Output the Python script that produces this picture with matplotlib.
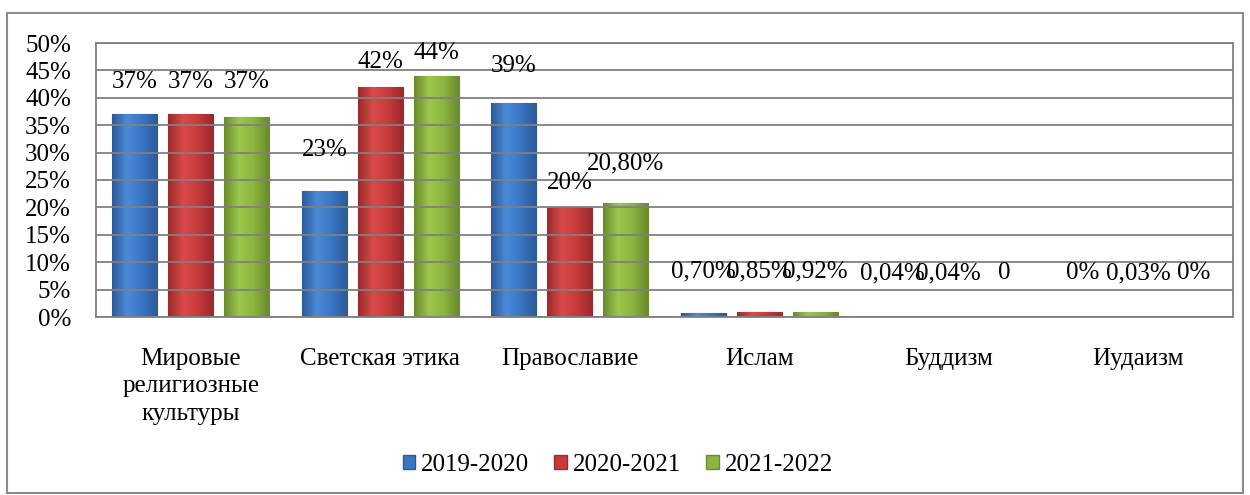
import matplotlib.pyplot as plt
import matplotlib.patches as mpatches
from matplotlib.colors import LinearSegmentedColormap
import numpy as np

categories = ['Мировые\nрелигиозные\nкультуры', 'Светская этика', 'Православие',
              'Ислам', 'Буддизм', 'Иудаизм']
series_names = ['2019-2020', '2020-2021', '2021-2022']
vals_2019 = [37.0, 23.0, 39.0, 0.70, 0.04, 0.0]
vals_2020 = [37.0, 42.0, 20.0, 0.85, 0.04, 0.03]
vals_2021 = [36.5, 44.0, 20.8, 0.92, 0.0, 0.0]
labels_2019 = ['37%', '23%', '39%', '0,70%', '0,04%', '0%']
labels_2020 = ['37%', '42%', '20%', '0,85%', '0,04%', '0,03%']
labels_2021 = ['37%', '44%', '20,80%', '0,92%', '0', '0%']
yticks = [0, 5, 10, 15, 20, 25, 30, 35, 40, 45, 50]

# where excel put the data labels (in axis units)
label_y_2019 = [42.9, 30.5, 45.8, 8.4, 8.0, 8.0]
label_y_2020 = [42.9, 46.5, 24.5, 8.4, 8.0, 8.0]
label_y_2021 = [42.9, 48.2, 28.1, 8.4, 8.0, 8.0]

colors = ['#3a76c4', '#c73a3b', '#8cb43e']
edges = ['#2c5b99', '#9a2a2b', '#6b8b2c']
lights = ['#4b8ad8', '#d94a4b', '#9dc64c']
fs = 18

plt.rcParams['font.family'] = ['Liberation Serif', 'DejaVu Serif']

fig = plt.figure(figsize=(12.5, 4.95), dpi=100)
ax = fig.add_axes([96 / 1250, 1 - 317 / 495, (1233 - 96) / 1250, (317 - 43) / 495])

# outer frame of the chart
fig.patches.append(mpatches.Rectangle((7 / 1250, 2 / 495), 1236 / 1250, 480 / 495,
                                      transform=fig.transFigure, fill=False,
                                      edgecolor='#8c8c8c', linewidth=1.5))

x = np.arange(len(categories))
step = 0.295
width = 0.237
all_vals = [vals_2019, vals_2020, vals_2021]
all_labels = [labels_2019, labels_2020, labels_2021]
all_label_y = [label_y_2019, label_y_2020, label_y_2021]
grad = np.linspace(0, 1, 64).reshape(1, -1)

for k in range(3):
    xs = x + (k - 1) * step
    bars = ax.bar(xs, all_vals[k], width, color=colors[k], edgecolor=edges[k],
                  linewidth=0.8, label=series_names[k], zorder=1)
    cmap = LinearSegmentedColormap.from_list('b', [edges[k], lights[k], colors[k], edges[k]])
    # soft shading across each bar, a bit like the excel bevel
    for b in bars:
        if b.get_height() <= 0:
            continue
        im = ax.imshow(grad, cmap=cmap, aspect='auto', zorder=1.1,
                       extent=(b.get_x(), b.get_x() + b.get_width(), 0, b.get_height()))
        im.set_clip_path(b)
    for i in range(len(categories)):
        ax.text(xs[i], all_label_y[k][i], all_labels[k][i], ha='center', va='center',
                fontsize=fs, color='black', zorder=3)

ax.set_xlim(-0.5, len(categories) - 0.5)
ax.set_ylim(0, 50)
ax.set_yticks(yticks)
ax.set_yticklabels([f'{t}%' for t in yticks], fontsize=fs)
ax.set_xticks(x)
ax.set_xticklabels(categories, fontsize=fs, linespacing=1.33)
ax.tick_params(axis='y', length=0, pad=18)
ax.tick_params(axis='x', length=0, pad=22)
ax.yaxis.grid(True, color='#808080', linewidth=1.3)
ax.set_axisbelow(False)
for s in ax.spines.values():
    s.set_color('#808080')
    s.set_linewidth(1.3)

handles = [mpatches.Patch(facecolor=colors[k], edgecolor=edges[k]) for k in range(3)]
fig.legend(handles, series_names, loc='center', bbox_to_anchor=(618 / 1250, 1 - 465 / 495),
           ncol=3, frameon=False, fontsize=fs, handlelength=0.5, handleheight=0.5,
           handletextpad=0.25, columnspacing=1.0)

fig.savefig('out.png', dpi=100)
